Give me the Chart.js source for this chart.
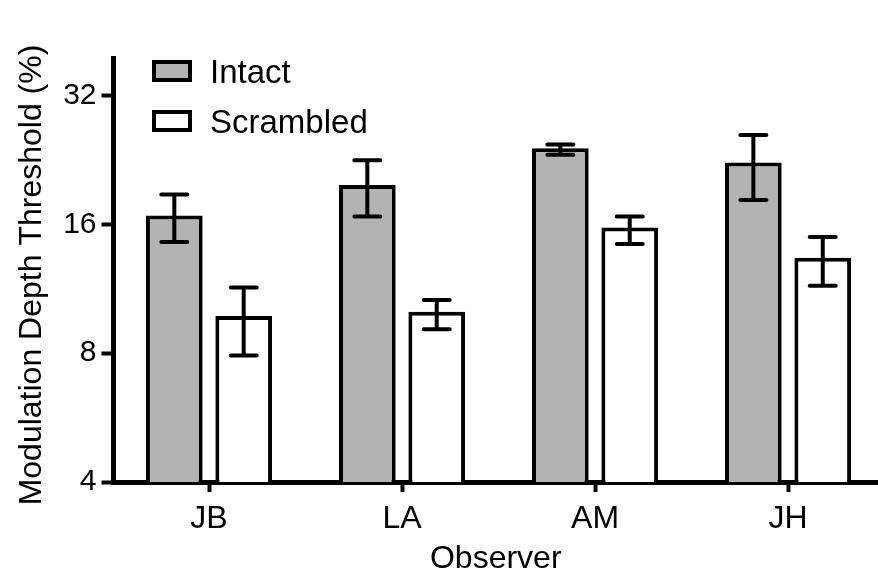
<!DOCTYPE html>
<html>
<head>
<meta charset="utf-8">
<script src="https://cdn.jsdelivr.net/npm/chart.js@4"></script>
<style>
  html, body { margin: 0; padding: 0; background: #fff; overflow: hidden; }
  #wrap { width: 878px; height: 580px; position: relative; }
</style>
</head>
<body>
<div id="wrap"><canvas id="c" width="878" height="580"></canvas></div>
<script>
// ---- data ----
const categories = ['JB', 'LA', 'AM', 'JH'];
const seriesNames = ['Intact', 'Scrambled'];
const intact = [16.8, 19.8, 24.1, 22.35];
const intactHi = [18.8, 22.6, 24.6, 25.9];
const intactLo = [14.55, 16.7, 23.3, 18.25];
const scrambled = [9.77, 10.0, 15.74, 13.37];
const scrambledHi = [11.4, 10.65, 16.7, 14.95];
const scrambledLo = [7.9, 9.1, 14.4, 11.5];
const yTicks = [4, 8, 16, 32];
const yTitle = 'Modulation Depth Threshold (%)';
const xTitle = 'Observer';

const FONT = '"Liberation Sans", Arial, Helvetica, sans-serif';

const errorBars = {
  id: 'errorBars',
  afterDatasetsDraw(chart) {
    const ctx = chart.ctx;
    const ys = chart.scales.y;
    chart.data.datasets.forEach((ds, di) => {
      const meta = chart.getDatasetMeta(di);
      meta.data.forEach((bar, i) => {
        const x = bar.x;
        const yHi = ys.getPixelForValue(ds.errHi[i]);
        const yLo = ys.getPixelForValue(ds.errLo[i]);
        ctx.save();
        ctx.strokeStyle = '#000';
        ctx.lineWidth = 4;
        ctx.lineCap = 'round';
        ctx.beginPath();
        ctx.moveTo(x, yHi); ctx.lineTo(x, yLo);
        ctx.moveTo(x - 13, yHi); ctx.lineTo(x + 13, yHi);
        ctx.moveTo(x - 13, yLo); ctx.lineTo(x + 13, yLo);
        ctx.stroke();
        ctx.restore();
      });
    });
  }
};

const customLegend = {
  id: 'customLegend',
  afterDraw(chart) {
    const ctx = chart.ctx;
    const a = chart.chartArea;
    const bx = a.left + 40.5, by = a.top + 4;
    chart.data.datasets.forEach((ds, i) => {
      const y = by + i * 50;
      ctx.save();
      ctx.fillStyle = ds.backgroundColor;
      ctx.strokeStyle = '#000';
      ctx.lineWidth = 4;
      ctx.fillRect(bx, y, 36, 18);
      ctx.strokeRect(bx, y, 36, 18);
      ctx.fillStyle = '#000';
      ctx.font = '33px ' + FONT;
      ctx.textBaseline = 'alphabetic';
      ctx.textAlign = 'left';
      ctx.fillText(ds.label, bx + 56, y + 21);
      ctx.restore();
    });
  }
};

const yAxisTitle = {
  id: 'yAxisTitle',
  afterDraw(chart) {
    const ctx = chart.ctx;
    const a = chart.chartArea;
    ctx.save();
    ctx.translate(41, (a.top + a.bottom) / 2 + 5);
    ctx.rotate(-Math.PI / 2);
    ctx.fillStyle = '#000';
    ctx.font = '32px ' + FONT;
    ctx.textAlign = 'center';
    ctx.textBaseline = 'alphabetic';
    ctx.fillText(yTitle, 0, 0);
    ctx.restore();
  }
};

new Chart(document.getElementById('c'), {
  type: 'bar',
  data: {
    datasets: [
      {
        label: seriesNames[0],
        data: intact.map((v, i) => ({ x: i, y: v })),
        errHi: intactHi, errLo: intactLo,
        backgroundColor: '#b3b3b3',
        borderColor: '#000',
        borderWidth: 4,
        borderSkipped: 'start'
      },
      {
        label: seriesNames[1],
        data: scrambled.map((v, i) => ({ x: i, y: v })),
        errHi: scrambledHi, errLo: scrambledLo,
        backgroundColor: '#ffffff',
        borderColor: '#000',
        borderWidth: 4,
        borderSkipped: 'start'
      }
    ]
  },
  options: {
    responsive: false,
    animation: false,
    devicePixelRatio: 1,
    categoryPercentage: 0.719,
    barPercentage: 0.817,
    layout: { padding: { top: 58, right: 0, bottom: 0, left: 0 } },
    plugins: { legend: { display: false }, tooltip: { enabled: false } },
    scales: {
      x: {
        type: 'linear',
        min: -0.4948,
        max: 3.466,
        bounds: 'data',
        offset: false,
        afterBuildTicks: s => { s.ticks = categories.map((c, i) => ({ value: i })); },
        afterFit: s => { s.height = 98; },
        ticks: {
          callback: v => categories[v] ?? '',
          color: '#000',
          font: { family: FONT, size: 32 },
          padding: 8,
          autoSkip: false,
          maxRotation: 0
        },
        grid: { offset: false, drawOnChartArea: false, drawTicks: true, tickLength: 10, tickWidth: 4, tickColor: '#000' },
        border: { display: true, width: 5, color: '#000' },
        title: {
          display: true, text: xTitle, color: '#000',
          font: { family: FONT, size: 32 },
          padding: { top: 0, bottom: 2 }
        }
      },
      y: {
        type: 'logarithmic',
        min: 4,
        max: 39.2,
        bounds: 'data',
        afterBuildTicks: s => { s.ticks = yTicks.map(v => ({ value: v })); },
        afterFit: s => { s.width = 113.5; },
        ticks: {
          callback: v => String(v),
          color: '#000',
          font: { family: FONT, size: 30 },
          padding: 5,
          autoSkip: false
        },
        grid: { drawOnChartArea: false, drawTicks: true, tickLength: 12, tickWidth: 4, tickColor: '#000' },
        border: { display: true, width: 5, color: '#000' },
        title: { display: false }
      }
    }
  },
  plugins: [errorBars, customLegend, yAxisTitle]
});
</script>
</body>
</html>
